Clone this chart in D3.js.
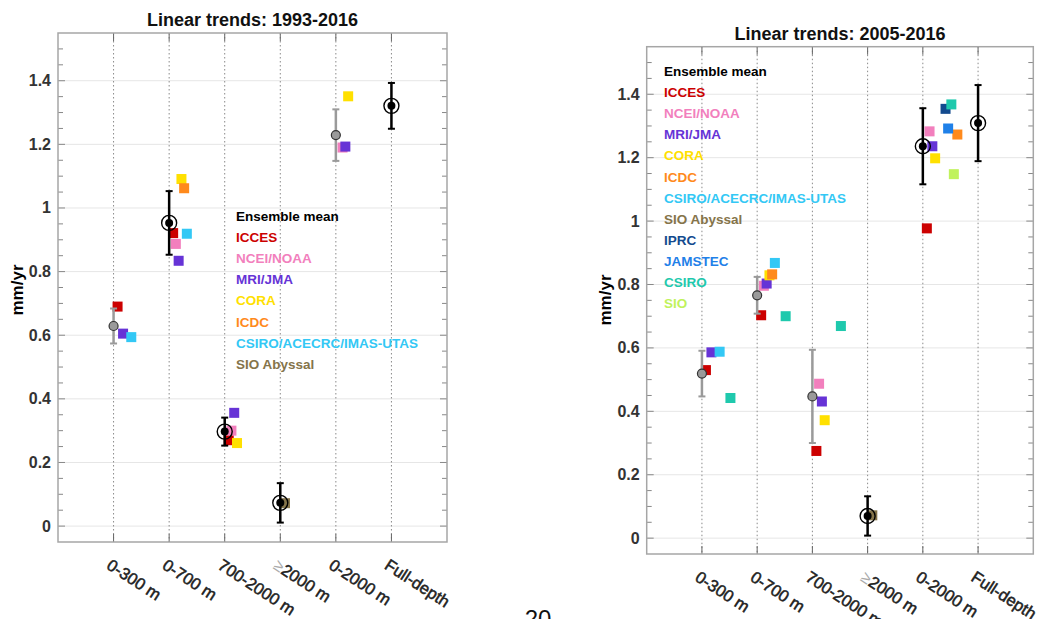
<!DOCTYPE html>
<html lang="en">
<head>
<meta charset="UTF-8" />
<script src="https://d3js.org/d3.v7.min.js"></script>
<title>Linear trends</title>
<style>
  body { margin: 0; background: #fff; }
  text { font-family: "Liberation Sans", Arial, sans-serif; }
</style>
</head>
<body>
<script>
// categories along x
var cats = ["0-300 m", "0-700 m", "700-2000 m", "\u22652000 m", "0-2000 m", "Full-depth"];

// data sources (legend order)
var sources = ["ICCES", "NCEI/NOAA", "MRI/JMA", "CORA", "ICDC", "CSIRO/ACECRC/IMAS-UTAS",
               "SIO Abyssal", "IPRC", "JAMSTEC", "CSIRO", "SIO"];

// 1993-2016 trends, one row per source (null = not available)
var vals93 = [
  [0.69,  0.921, 0.27,  null,  null,  null],   // ICCES
  [null,  0.887, 0.30,  null,  1.19,  null],   // NCEI/NOAA
  [0.605, 0.834, 0.356, null,  1.193, null],   // MRI/JMA
  [null,  1.091, 0.261, null,  1.351, null],   // CORA
  [null,  1.062, null,  null,  null,  null],   // ICDC
  [0.594, 0.919, null,  null,  null,  null],   // CSIRO/ACECRC/IMAS-UTAS
  [null,  null,  null,  0.072, null,  null]    // SIO Abyssal
];
var mean93 = [null, 0.953, 0.297, 0.073, null, 1.321];
var err93  = [null, 0.10,  0.044, 0.062, null, 0.072];
var part93 = [0.629, null, null, null, 1.229, null];
var perr93 = [0.055, null, null, null, 0.081, null];

// 2005-2016 trends
var vals05 = [
  [0.53,  0.703, 0.275, null,  0.977, null],   // ICCES
  [null,  0.796, 0.487, null,  1.283, null],   // NCEI/NOAA
  [0.586, 0.803, 0.431, null,  1.236, null],   // MRI/JMA
  [null,  0.829, 0.372, null,  1.198, null],   // CORA
  [null,  0.832, null,  null,  1.273, null],   // ICDC
  [0.588, 0.868, null,  null,  null,  null],   // CSIRO/ACECRC/IMAS-UTAS
  [null,  null,  null,  0.072, null,  null],   // SIO Abyssal
  [null,  null,  null,  null,  1.354, null],   // IPRC
  [null,  null,  null,  null,  1.292, null],   // JAMSTEC
  [0.442, 0.700, 0.669, null,  1.368, null],   // CSIRO
  [null,  null,  null,  null,  1.148, null]    // SIO
];
var mean05 = [null, null, null, 0.070, 1.236, 1.309];
var err05  = [null, null, null, 0.062, 0.12,  0.12];
var part05 = [0.519, 0.766, 0.447, null, null, null];
var perr05 = [0.072, 0.058, 0.147, null, null, null];

var yTicks = [0, 0.2, 0.4, 0.6, 0.8, 1, 1.2, 1.4];

var colors = ["#cc0000", "#f27fbd", "#6633d6", "#ffe000", "#ff8a1c", "#33c8f5",
              "#85744a", "#134a8e", "#1f80e8", "#1fc9ad", "#c0f25c"];
// horizontal jitter of each source next to its category line (px)
var jitter = [4, 6.7, 9.5, 12.3, 15, 17.7, 4.7, 22.7, 25.3, 28.5, 31];

var W = 1051, H = 619;
var svg = d3.select("body").append("svg").attr("width", W).attr("height", H);

function panel(opt) {
  var x = d3.scaleLinear().domain([0, 7]).range([opt.left, opt.right]);
  var y = d3.scaleLinear().domain([-0.05, 1.55]).range([opt.bottom, opt.top]);
  var g = svg.append("g");

  // grid lines
  g.selectAll(".grid").data(yTicks).enter().append("line")
    .attr("x1", opt.left).attr("x2", opt.right)
    .attr("y1", d => y(d)).attr("y2", d => y(d))
    .attr("stroke", "#e6e6e6").attr("stroke-width", 1);

  // dotted category lines
  g.selectAll(".vline").data(cats).enter().append("line")
    .attr("x1", (d, i) => x(i + 1)).attr("x2", (d, i) => x(i + 1))
    .attr("y1", opt.top).attr("y2", opt.bottom)
    .attr("stroke", "#8a8a8a").attr("stroke-width", 1).attr("stroke-dasharray", "1.5,2.5");

  // minor / major ticks on left and right
  var minor = d3.range(0, 1.52, 0.05);
  [opt.left, opt.right].forEach(function (ex) {
    var dir = ex === opt.left ? 1 : -1;
    g.selectAll(null).data(minor).enter().append("line")
      .attr("x1", ex).attr("x2", d => ex + dir * (yTicks.some(t => Math.abs(t - d) < 1e-6) ? 7 : 5))
      .attr("y1", d => y(d)).attr("y2", d => y(d))
      .attr("stroke", "#888").attr("stroke-width", 1);
  });
  // category ticks top & bottom
  [[opt.bottom, -1], [opt.top, 1]].forEach(function (p) {
    g.selectAll(null).data(cats).enter().append("line")
      .attr("x1", (d, i) => x(i + 1)).attr("x2", (d, i) => x(i + 1))
      .attr("y1", p[0]).attr("y2", p[0] + p[1] * 8)
      .attr("stroke", "#666").attr("stroke-width", 1);
  });

  // frame
  g.append("rect").attr("x", opt.left).attr("y", opt.top)
    .attr("width", opt.right - opt.left).attr("height", opt.bottom - opt.top)
    .attr("fill", "none").attr("stroke", "#a6a6a6").attr("stroke-width", 1.5);

  // y tick labels
  g.selectAll(".ylab").data(yTicks).enter().append("text")
    .attr("x", opt.left - 7).attr("y", d => y(d) + 5.5)
    .attr("text-anchor", "end").attr("font-size", 16).attr("font-weight", "bold")
    .attr("fill", "#333").text(d => d3.format("~g")(d));

  // x tick labels (rotated)
  g.selectAll(".xlab").data(cats).enter().append("text")
    .attr("transform", (d, i) => "translate(" + (x(i + 1) - 8) + "," + (opt.bottom + 26) + ") rotate(33)")
    .attr("font-size", 16.5).attr("fill", "#222")
    .style("paint-order", "stroke").attr("stroke", "#222").attr("stroke-width", 0.5)
    .each(function (d) {
      var t = d3.select(this);
      if (d.charAt(0) === "\u2265") {
        t.append("tspan").attr("fill", "#aaa").attr("stroke", "none").text("\u2265");
        t.append("tspan").text(d.slice(1));
      } else t.text(d);
    });

  // y label and title
  g.append("text").attr("transform", "translate(" + opt.ylabX + "," + opt.ylabY + ") rotate(-90)")
    .attr("text-anchor", "middle").attr("font-size", 17).attr("font-weight", "bold").text("mm/yr");
  g.append("text").attr("x", (opt.left + opt.right) / 2).attr("y", opt.top - 7)
    .attr("text-anchor", "middle").attr("font-size", 18).attr("font-weight", "bold")
    .attr("fill", "#111").text(opt.title);

  // source squares
  var pts = [];
  opt.vals.forEach(function (row, s) {
    row.forEach(function (v, c) {
      if (v !== null) pts.push({ s: s, c: c, v: v });
    });
  });
  var sz = 10;
  g.selectAll(".sq").data(pts).enter().append("rect")
    .attr("x", d => x(d.c + 1) + (opt.jit(d) || jitter[d.s]) - sz / 2)
    .attr("y", d => y(d.v) - sz / 2)
    .attr("width", sz).attr("height", sz)
    .attr("fill", d => colors[d.s]);

  // partial ensemble means (grey)
  var gp = opt.part.map((v, c) => ({ c: c, v: v, e: opt.perr[c] })).filter(d => d.v !== null);
  drawBars(g, gp, x, y, "#9a9a9a");
  g.selectAll(".gdot").data(gp).enter().append("circle")
    .attr("cx", d => x(d.c + 1)).attr("cy", d => y(d.v)).attr("r", 4.5)
    .attr("fill", "#9a9a9a").attr("stroke", "#333").attr("stroke-width", 1.2);

  // full ensemble means (black)
  var bp = opt.mean.map((v, c) => ({ c: c, v: v, e: opt.err[c] })).filter(d => d.v !== null);
  drawBars(g, bp, x, y, "#000");
  g.selectAll(".ring").data(bp).enter().append("circle")
    .attr("cx", d => x(d.c + 1)).attr("cy", d => y(d.v)).attr("r", 7.5)
    .attr("fill", "none").attr("stroke", "#000").attr("stroke-width", 1.4);
  g.selectAll(".bdot").data(bp).enter().append("circle")
    .attr("cx", d => x(d.c + 1)).attr("cy", d => y(d.v)).attr("r", 4)
    .attr("fill", "#000");

  // legend
  var leg = ["Ensemble mean"].concat(sources.slice(0, opt.vals.length));
  g.selectAll(".leg").data(leg).enter().append("text")
    .attr("x", opt.legX).attr("y", (d, i) => opt.legY + i * 21.1 + 5)
    .attr("font-size", 13.5).attr("font-weight", "bold")
    .attr("fill", (d, i) => i === 0 ? "#000" : colors[i - 1]).text(d => d);
}

function drawBars(g, data, x, y, col) {
  data.forEach(function (d) {
    var cx = x(d.c + 1);
    g.append("line").attr("x1", cx).attr("x2", cx)
      .attr("y1", y(d.v - d.e)).attr("y2", y(d.v + d.e))
      .attr("stroke", col).attr("stroke-width", 2.5);
    [d.v - d.e, d.v + d.e].forEach(function (v) {
      g.append("line").attr("x1", cx - 3.5).attr("x2", cx + 3.5)
        .attr("y1", y(v)).attr("y2", y(v))
        .attr("stroke", col).attr("stroke-width", 2);
    });
  });
}

panel({
  left: 58, right: 447, top: 33, bottom: 542, ylabX: 23, ylabY: 290,
  title: "Linear trends: 1993-2016", vals: vals93,
  mean: mean93, err: err93, part: part93, perr: perr93,
  legX: 236, legY: 216, jit: function () { return 0; }
});

panel({
  left: 646.7, right: 1033.3, top: 46.7, bottom: 554, ylabX: 611, ylabY: 300,
  title: "Linear trends: 2005-2016", vals: vals05,
  mean: mean05, err: err05, part: part05, perr: perr05,
  legX: 664, legY: 71,
  // ICDC sits at the far right of the 0-2000 m group in this panel
  jit: function (d) { return (d.s === 4 && d.c === 4) ? 34.5 : 0; }
});

// page number, cut off at the bottom edge
svg.append("text").attr("x", 538).attr("y", 627).attr("text-anchor", "middle")
  .attr("font-size", 24).attr("fill", "#111").text("20");
</script>
</body>
</html>
